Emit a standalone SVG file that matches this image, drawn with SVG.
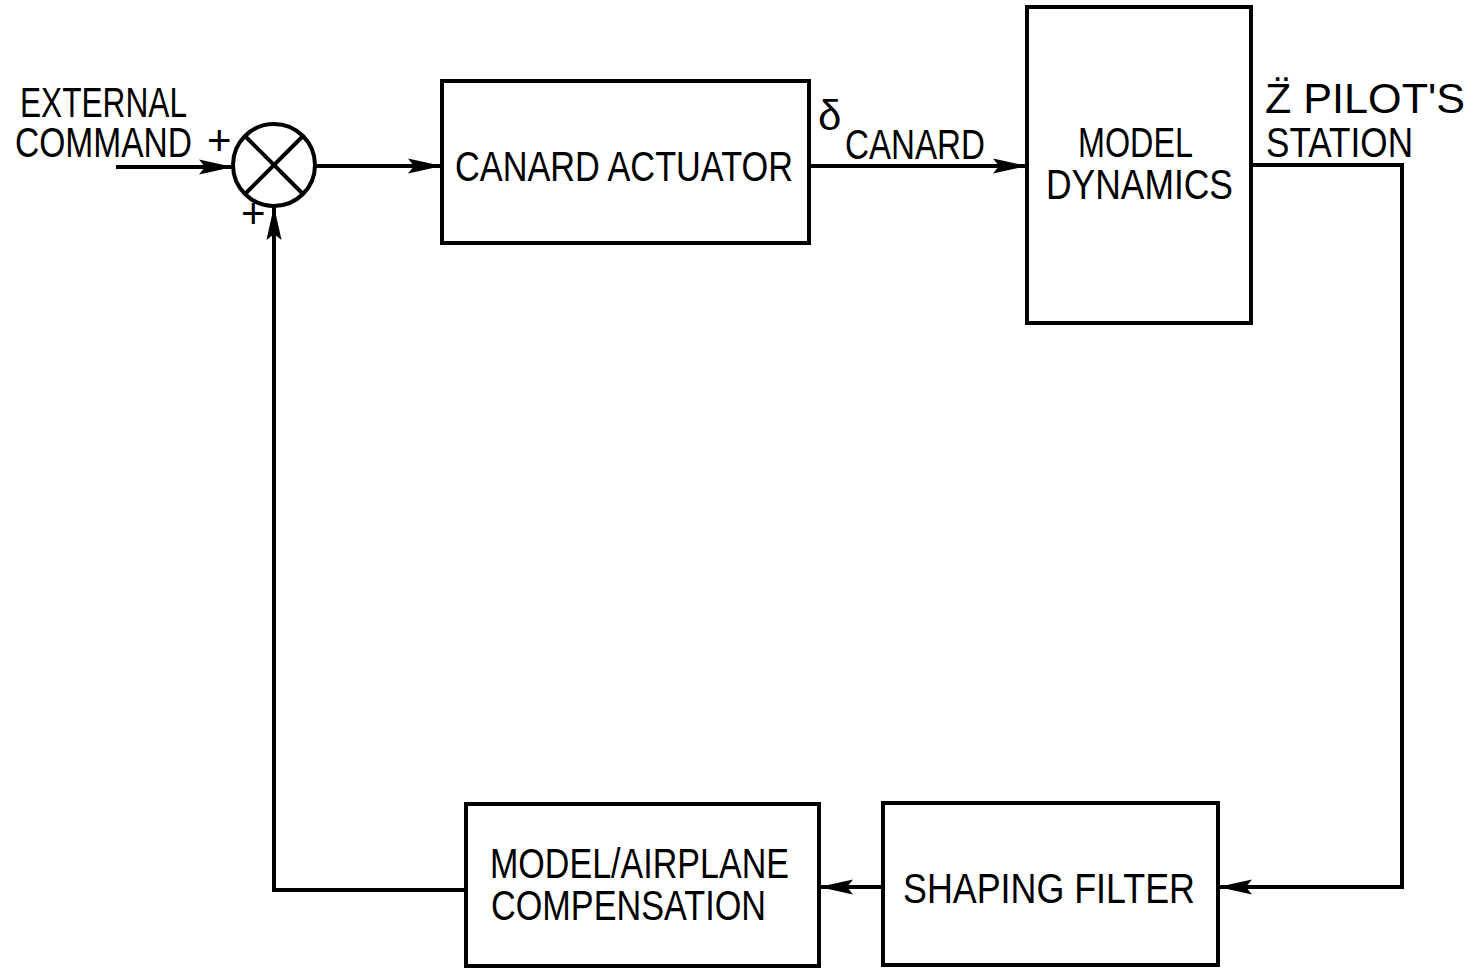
<svg xmlns="http://www.w3.org/2000/svg" width="1480" height="968" viewBox="0 0 1480 968">
<style>
.box{fill:none;stroke:#000;stroke-width:4}
.ln{fill:none;stroke:#000;stroke-width:4;stroke-linejoin:miter}
text{font-family:"Liberation Sans",Arial,sans-serif;fill:#000;font-size:42px}
</style>
<defs>
<marker id="ah" markerUnits="userSpaceOnUse" markerWidth="36" markerHeight="18" refX="34" refY="9" orient="auto">
<path d="M0,1.5 L34,9 L0,16.5 L6,9 Z" fill="#000"/>
</marker>
</defs>
<rect width="1480" height="968" fill="#fff"/>
<g id="sum">
<circle cx="274" cy="165" r="41" class="box"/>
<line x1="245" y1="136" x2="303" y2="194" class="ln"/>
<line x1="303" y1="136" x2="245" y2="194" class="ln"/>
</g>
<g id="canard_actuator">
<rect x="442" y="81" width="367" height="162" class="box"/>
<text x="455" y="181" textLength="338" lengthAdjust="spacingAndGlyphs" font-size="46">CANARD ACTUATOR</text>
</g>
<g id="model_dynamics">
<rect x="1027" y="7" width="224" height="316" class="box"/>
<text x="1078" y="157" textLength="115" lengthAdjust="spacingAndGlyphs" font-size="44">MODEL</text>
<text x="1046" y="199" textLength="187" lengthAdjust="spacingAndGlyphs" font-size="44">DYNAMICS</text>
</g>
<g id="shaping_filter">
<rect x="883" y="803" width="335" height="162" class="box"/>
<text x="903" y="903" textLength="292" lengthAdjust="spacingAndGlyphs" font-size="46">SHAPING FILTER</text>
</g>
<g id="compensation">
<rect x="466" y="804" width="353" height="162" class="box"/>
<text x="490" y="878" textLength="299" lengthAdjust="spacingAndGlyphs" font-size="44">MODEL/AIRPLANE</text>
<text x="491" y="920" textLength="275" lengthAdjust="spacingAndGlyphs" font-size="44">COMPENSATION</text>
</g>
<g id="labels">
<text x="20" y="117" textLength="167" lengthAdjust="spacingAndGlyphs" font-size="37">EXTERNAL</text>
<text x="15" y="157" textLength="177" lengthAdjust="spacingAndGlyphs" font-size="37">COMMAND</text>
<text x="207" y="155" font-size="28">+</text>
<text x="241" y="228" font-size="28">+</text>
<text x="818" y="130" font-size="36">δ</text>
<text x="845" y="159" textLength="140" lengthAdjust="spacingAndGlyphs" font-size="44">CANARD</text>
<text x="1265" y="113" textLength="200" lengthAdjust="spacingAndGlyphs" font-size="40">Z̈  PILOT'S</text>
<text x="1266" y="157" textLength="147" lengthAdjust="spacingAndGlyphs" font-size="44">STATION</text>
</g>
<g id="connectors">
<line x1="116" y1="167" x2="233" y2="167" class="ln" marker-end="url(#ah)"/>
<line x1="315" y1="166" x2="442" y2="166" class="ln" marker-end="url(#ah)"/>
<line x1="809" y1="166" x2="1027" y2="166" class="ln" marker-end="url(#ah)"/>
<polyline points="1251,165 1402,165 1402,887 1218,887" class="ln" marker-end="url(#ah)"/>
<line x1="883" y1="887" x2="819" y2="887" class="ln" marker-end="url(#ah)"/>
<polyline points="466,890 274,890 274,206" class="ln" marker-end="url(#ah)"/>
</g>
</svg>
